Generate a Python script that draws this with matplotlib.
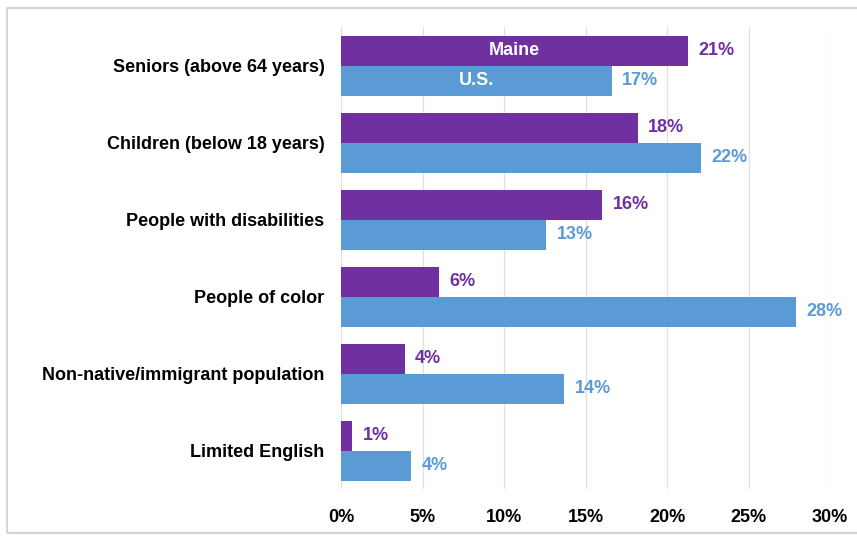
#!/usr/bin/env python3
"""Maine vs U.S. population groups, horizontal grouped bars -> out.png"""
import numpy as np
import matplotlib

matplotlib.use("Agg")
import matplotlib.pyplot as plt
from matplotlib.patches import Rectangle

CATEGORIES = ["Seniors (above 64 years)", "Children (below 18 years)",
              "People with disabilities", "People of color",
              "Non-native/immigrant population", "Limited English"]
MAINE = [21.3, 18.2, 16.0, 6.0, 3.9, 0.7]
US = [16.6, 22.1, 12.6, 27.9, 13.7, 4.3]
SERIES = ["Maine", "U.S."]
XTICKS = [0, 5, 10, 15, 20, 25, 30]

PURPLE = "#7030A0"
BLUE = "#5B9BD5"
FS = 13

plt.rcParams.update({
    "font.family": ["Liberation Sans", "DejaVu Sans"],
    "font.weight": "bold",
})

fig = plt.figure(figsize=(8.57, 5.37), dpi=100)
ax = fig.add_axes([0.398, 0.0885, 0.5705, 0.8605])

y = np.arange(len(CATEGORIES))
h = 0.39
ax.barh(y - h / 2, MAINE, height=h, color=PURPLE, zorder=2)
ax.barh(y + h / 2, US, height=h, color=BLUE, zorder=2)

for yi, m, u in zip(y, MAINE, US):
    ax.text(m + 0.65, yi - h / 2, f"{m:.0f}%", va="center", ha="left",
            fontsize=FS, fontweight="bold", color=PURPLE)
    ax.text(u + 0.65, yi + h / 2, f"{u:.0f}%", va="center", ha="left",
            fontsize=FS, fontweight="bold", color=BLUE)

# series names written inside the first pair of bars
ax.text(MAINE[0] / 2, y[0] - h / 2, SERIES[0], va="center", ha="center",
        fontsize=FS, fontweight="bold", color="white")
ax.text(US[0] / 2, y[0] + h / 2, SERIES[1], va="center", ha="center",
        fontsize=FS, fontweight="bold", color="white")

ax.set_xlim(0, 30)
ax.set_ylim(len(CATEGORIES) - 0.5, -0.5)
ax.set_xticks(XTICKS)
ax.set_xticklabels([f"{t}%" for t in XTICKS], fontsize=FS, fontweight="bold")
ax.set_yticks(y)
ax.set_yticklabels(CATEGORIES, fontsize=FS, fontweight="bold")
ax.tick_params(length=0)
ax.tick_params(axis="y", pad=12)
ax.tick_params(axis="x", pad=14)
ax.grid(axis="x", color="#e0e0e0", linewidth=0.9, zorder=0)
for s in ax.spines.values():
    s.set_visible(False)

fig.patches.append(Rectangle((7 / 857, 4 / 537), 1.0, 525 / 537,
                             transform=fig.transFigure, fill=False,
                             edgecolor="#d4d4d4", linewidth=1.5))

fig.savefig("out.png", dpi=100)
